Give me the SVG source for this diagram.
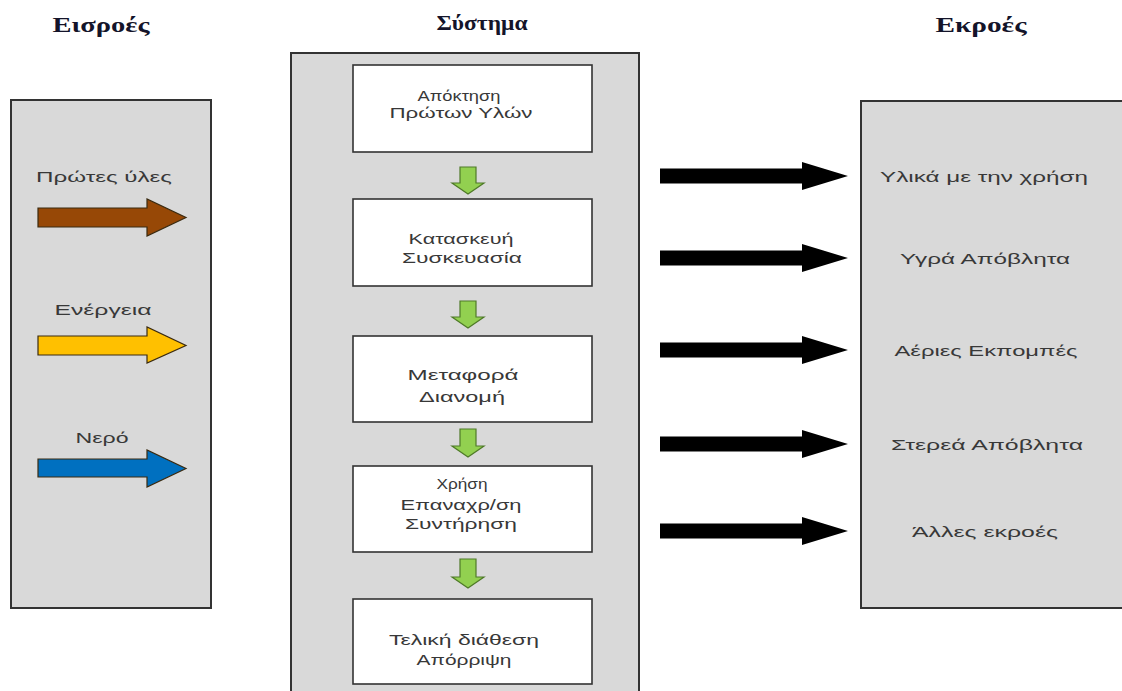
<svg xmlns="http://www.w3.org/2000/svg" width="1122" height="691" viewBox="0 0 1122 691">
<style>
.panel{fill:#d9d9d9;stroke:#333;stroke-width:2}
.step{fill:#fff;stroke:#333;stroke-width:1.6}
.t{font-family:"Liberation Sans","Noto Sans",sans-serif;font-size:14.5px;fill:#383838;text-anchor:middle}
.title{font-family:"Liberation Serif","DejaVu Serif",serif;font-weight:bold;font-size:22px;fill:#14142a;text-anchor:middle}
.green{fill:#92d050;stroke:#4f7a28;stroke-width:1.2}
.black{fill:#000}
.in{stroke:#3a2a10;stroke-width:1.2}
</style>
<g id="titles">
<text class="title" x="101" y="32" textLength="97" lengthAdjust="spacingAndGlyphs">Εισροές</text>
<text class="title" x="482" y="30" textLength="91" lengthAdjust="spacingAndGlyphs">Σύστημα</text>
<text class="title" x="981" y="32" textLength="91" lengthAdjust="spacingAndGlyphs">Εκροές</text>
</g>
<g id="inputs">
<rect class="panel" x="11" y="100" width="200" height="508"/>
<text class="t" x="104" y="182" textLength="136" lengthAdjust="spacingAndGlyphs">Πρώτες ύλες</text>
<polygon class="in" fill="#974806" points="38,208 147,208 147,199 186,217.5 147,236 147,227 38,227"/>
<text class="t" x="103" y="315" textLength="97" lengthAdjust="spacingAndGlyphs">Ενέργεια</text>
<polygon class="in" fill="#ffc000" points="38,336 147,336 147,327 186,345.5 147,363 147,355 38,355"/>
<text class="t" x="102" y="443" textLength="53" lengthAdjust="spacingAndGlyphs">Νερό</text>
<polygon class="in" fill="#0070c0" points="38,459 147,459 147,450 186,468.5 147,487 147,477 38,477"/>
</g>
<g id="system">
<rect class="panel" x="291" y="53" width="348" height="650"/>
</g>
<g id="step1">
<rect class="step" x="353" y="65" width="239" height="87"/>
<text class="t" x="459" y="101" textLength="83" lengthAdjust="spacingAndGlyphs">Απόκτηση</text>
<text class="t" x="461" y="118" textLength="143" lengthAdjust="spacingAndGlyphs">Πρώτων Υλών</text>
</g>
<g id="step2">
<rect class="step" x="353" y="199" width="239" height="87"/>
<text class="t" x="461" y="244" textLength="105" lengthAdjust="spacingAndGlyphs">Κατασκευή</text>
<text class="t" x="462" y="263" textLength="120" lengthAdjust="spacingAndGlyphs">Συσκευασία</text>
</g>
<g id="step3">
<rect class="step" x="353" y="336" width="239" height="86"/>
<text class="t" x="463" y="380" textLength="111" lengthAdjust="spacingAndGlyphs">Μεταφορά</text>
<text class="t" x="462" y="402" textLength="86" lengthAdjust="spacingAndGlyphs">Διανομή</text>
</g>
<g id="step4">
<rect class="step" x="353" y="466" width="239" height="86"/>
<text class="t" x="462" y="489" textLength="51" lengthAdjust="spacingAndGlyphs">Χρήση</text>
<text class="t" x="461" y="510" textLength="121" lengthAdjust="spacingAndGlyphs">Επαναχρ/ση</text>
<text class="t" x="461" y="529" textLength="112" lengthAdjust="spacingAndGlyphs">Συντήρηση</text>
</g>
<g id="step5">
<rect class="step" x="353" y="599" width="239" height="85"/>
<text class="t" x="464" y="645" textLength="150" lengthAdjust="spacingAndGlyphs">Τελική διάθεση</text>
<text class="t" x="464" y="665" textLength="95" lengthAdjust="spacingAndGlyphs">Απόρριψη</text>
</g>
<g id="outputs">
<rect class="panel" x="861" y="101" width="262" height="507"/>
<text class="t" x="984" y="182" textLength="208" lengthAdjust="spacingAndGlyphs">Υλικά με την χρήση</text>
<text class="t" x="985" y="264" textLength="170" lengthAdjust="spacingAndGlyphs">Υγρά Απόβλητα</text>
<text class="t" x="986" y="356" textLength="183" lengthAdjust="spacingAndGlyphs">Αέριες Εκπομπές</text>
<text class="t" x="987" y="450" textLength="192" lengthAdjust="spacingAndGlyphs">Στερεά Απόβλητα</text>
<text class="t" x="985" y="537" textLength="146" lengthAdjust="spacingAndGlyphs">Άλλες εκροές</text>
</g>
<g id="connectors">
<polygon class="green" points="460,167 476,167 476,183 484,183 468,194 452,183 460,183"/>
<polygon class="green" points="460,301 476,301 476,317 484,317 468,328 452,317 460,317"/>
<polygon class="green" points="460,429 476,429 476,446 484,446 468,457 452,446 460,446"/>
<polygon class="green" points="460,559 476,559 476,577 484,577 468,588 452,577 460,577"/>
<polygon class="black" points="660,168.5 802,168.5 802,162 848,176 802,190 802,183.5 660,183.5"/>
<polygon class="black" points="660,250.5 802,250.5 802,244 848,258 802,272 802,265.5 660,265.5"/>
<polygon class="black" points="660,342.5 802,342.5 802,336 848,350 802,364 802,357.5 660,357.5"/>
<polygon class="black" points="660,436.5 802,436.5 802,430 848,444 802,458 802,451.5 660,451.5"/>
<polygon class="black" points="660,523.5 802,523.5 802,517 848,531 802,545 802,538.5 660,538.5"/>
</g>
</svg>
